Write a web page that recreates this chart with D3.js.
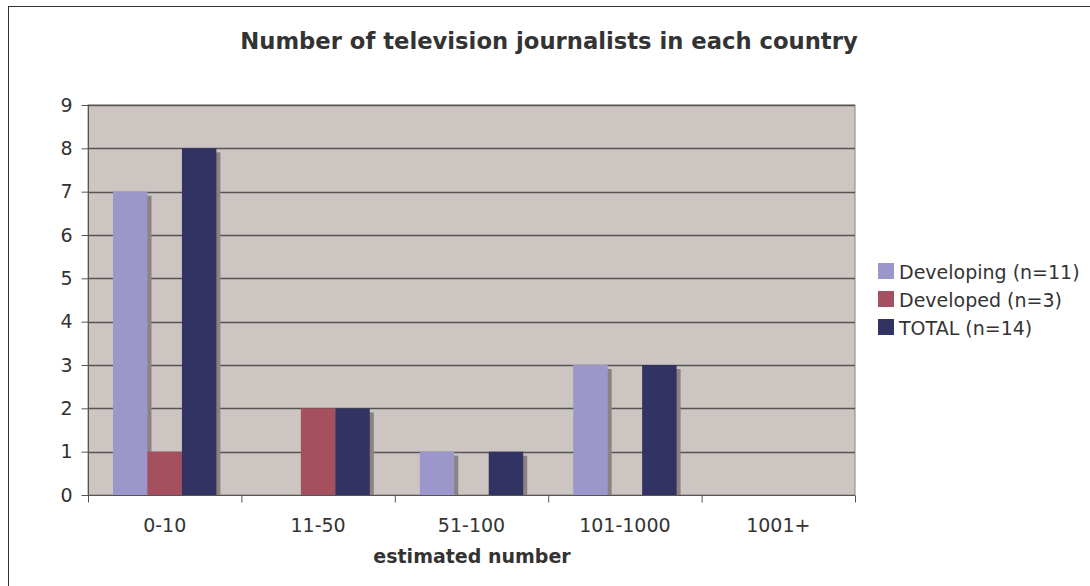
<!DOCTYPE html>
<html><head><meta charset="utf-8">
<script src="https://cdn.jsdelivr.net/npm/d3@7"></script>
<style>body{margin:0;background:#fff}svg{display:block}</style>
</head><body>
<svg id="c" width="1090" height="586"></svg>
<script>
const categories = ["0-10","11-50","51-100","101-1000","1001+"];
const seriesNames = ["Developing (n=11)","Developed (n=3)","TOTAL (n=14)"];
const developing = [7,0,1,3,0];
const developed = [1,2,0,0,0];
const total = [8,2,1,3,0];
const yTicks = [0,1,2,3,4,5,6,7,8,9];
const colors = ["#9b97ca","#a5505f","#333363"];

const svg = d3.select("#c");
const font = "Verdana, 'DejaVu Sans', sans-serif";
svg.append("rect").attr("x",8.5).attr("y",6.5).attr("width",1100).attr("height",600)
  .attr("fill","#fff").attr("stroke","#333").attr("stroke-width",1);

const L=88, R=855, T=105, B=495;
const x0 = d3.scaleBand().domain(categories).range([L,R]).paddingInner(0).paddingOuter(0);
const x1 = d3.scaleBand().domain(seriesNames).range([25, x0.bandwidth()-25]);
const y = d3.scaleLinear().domain([0,9]).range([B,T]);

svg.append("rect").attr("x",L).attr("y",T).attr("width",R-L).attr("height",B-T)
  .attr("fill","#cdc5c2").attr("stroke","#8c8480").attr("stroke-width",1);

svg.append("g").selectAll("line").data(yTicks.filter(d=>d>0)).join("line")
  .attr("x1",L).attr("x2",R).attr("y1",d=>Math.round(y(d))+0.5).attr("y2",d=>Math.round(y(d))+0.5)
  .attr("stroke","#555").attr("stroke-width",1.3);

const series = [developing, developed, total];
const data = [];
series.forEach((arr,si)=>arr.forEach((v,ci)=>{ if(v>0) data.push({s:si,c:ci,v}); }));

const gb = svg.append("g");
gb.selectAll("rect.sh").data(data).join("rect").attr("class","sh")
  .attr("x",d=>x0(categories[d.c])+x1(seriesNames[d.s])+4)
  .attr("y",d=>y(d.v)+4)
  .attr("width",x1.bandwidth())
  .attr("height",d=>B-y(d.v)-4)
  .attr("fill","#8c8280");
gb.selectAll("rect.bar").data(data).join("rect").attr("class","bar")
  .attr("x",d=>x0(categories[d.c])+x1(seriesNames[d.s]))
  .attr("y",d=>y(d.v))
  .attr("width",x1.bandwidth())
  .attr("height",d=>B-y(d.v))
  .attr("fill",d=>colors[d.s]);

// y axis
const ya = svg.append("g").attr("transform",`translate(${L+0.5},0)`)
  .call(d3.axisLeft(y).tickValues(yTicks).tickSize(7).tickPadding(9).tickFormat(d3.format("d")));
ya.select(".domain").attr("stroke","#555").attr("d",`M-0,${T}V${B+7}`);
ya.selectAll(".tick line").attr("stroke","#555");
ya.selectAll("text").attr("font-family",font).attr("font-size",19).attr("fill","#333");

// x axis
const xa = svg.append("g").attr("transform",`translate(0,${B+0.5})`);
xa.append("line").attr("x1",L).attr("x2",R).attr("stroke","#555");
const bounds = categories.map(c=>x0(c)).concat([R]);
xa.selectAll("line.tk").data(bounds).join("line").attr("class","tk")
  .attr("x1",d=>d+0.5).attr("x2",d=>d+0.5).attr("y1",0).attr("y2",7).attr("stroke","#555");
xa.selectAll("text").data(categories).join("text")
  .attr("x",d=>x0(d)+x0.bandwidth()/2).attr("y",36)
  .attr("text-anchor","middle").attr("font-family",font).attr("font-size",19).attr("fill","#333").text(d=>d);

svg.append("text").attr("x",549).attr("y",49).attr("text-anchor","middle")
  .attr("font-family",font).attr("font-weight","bold").attr("font-size",22.7).attr("fill","#333")
  .text("Number of television journalists in each country");
svg.append("text").attr("x",472).attr("y",563).attr("text-anchor","middle")
  .attr("font-family",font).attr("font-weight","bold").attr("font-size",19).attr("fill","#333")
  .text("estimated number");

// legend
const lg = svg.append("g").attr("transform","translate(878,263)");
const li = lg.selectAll("g").data(seriesNames).join("g").attr("transform",(d,i)=>`translate(0,${i*28})`);
li.append("rect").attr("x",0).attr("y",0).attr("width",16).attr("height",16).attr("fill",(d,i)=>colors[i]);
li.append("text").attr("x",21).attr("y",16).attr("font-family",font).attr("font-size",19).attr("fill","#333").text(d=>d);
</script>
</body></html>
